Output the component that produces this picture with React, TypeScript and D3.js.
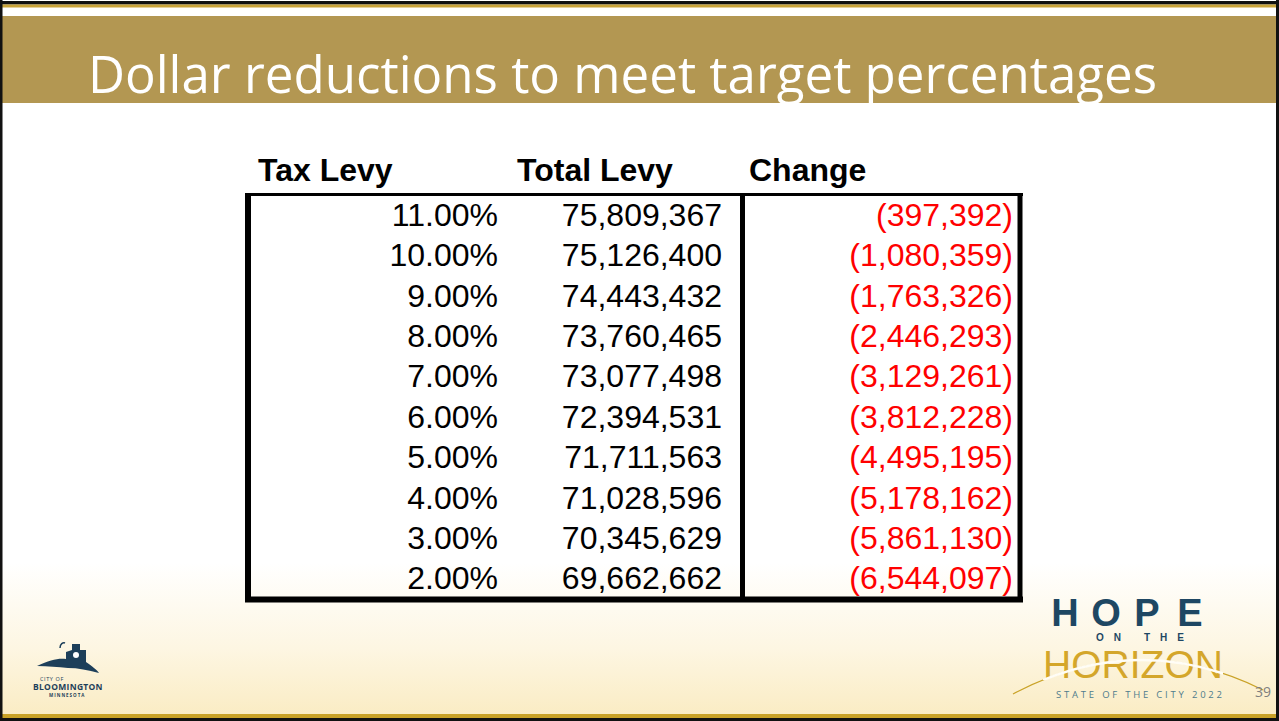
import React, { useEffect, useRef } from 'react'
import * as d3 from 'd3'

const width = 1279
const height = 721

const headers = ['Tax Levy', 'Total Levy', 'Change']
const taxLevy = [11, 10, 9, 8, 7, 6, 5, 4, 3, 2]
const totalLevy = [75809367, 75126400, 74443432, 73760465, 73077498, 72394531, 71711563, 71028596, 70345629, 69662662]
const change = [-397392, -1080359, -1763326, -2446293, -3129261, -3812228, -4495195, -5178162, -5861130, -6544097]

const title = 'Dollar reductions to meet target percentages'

const gold = '#B39752'
const navy = '#1D3F5A'

const App = () => {
  const svgR = useRef<SVGSVGElement | null>(null)

  useEffect(() => {
    const svg = d3.select(svgR.current)
    svg.selectAll('*').remove()

    const defs = svg.append('defs')
    const grad = defs.append('linearGradient').attr('id', 'bg').attr('x1', 0).attr('y1', 0).attr('x2', 0).attr('y2', 1)
    grad.append('stop').attr('offset', 0).attr('stop-color', '#ffffff')
    grad.append('stop').attr('offset', 0.78).attr('stop-color', '#ffffff')
    grad.append('stop').attr('offset', 0.9).attr('stop-color', '#FDF6E2')
    grad.append('stop').attr('offset', 1).attr('stop-color', '#FAEBC1')
    defs.append('clipPath').attr('id', 'hz')
      .append('rect').attr('x', 1043).attr('y', 640).attr('width', 180).attr('height', 40)

    // background + frame
    svg.append('rect').attr('width', width).attr('height', height).attr('fill', 'url(#bg)')
    svg.append('rect').attr('x', 0).attr('y', 1).attr('width', width).attr('height', 3.5).attr('fill', '#111')
    svg.append('rect').attr('x', 0).attr('y', 4.5).attr('width', width).attr('height', 3).attr('fill', '#C9A43A')
    svg.append('rect').attr('x', 0).attr('y', 16).attr('width', width).attr('height', 87).attr('fill', gold)
    svg.append('rect').attr('x', 0).attr('y', 714).attr('width', width).attr('height', 4).attr('fill', '#C9A227')
    svg.append('rect').attr('x', 0).attr('y', 718).attr('width', width).attr('height', 3).attr('fill', '#111')
    svg.append('rect').attr('x', 0).attr('y', 0).attr('width', 2.5).attr('height', height).attr('fill', '#111')
    svg.append('rect').attr('x', width - 3).attr('y', 0).attr('width', 3).attr('height', height).attr('fill', '#111')

    svg.append('text')
      .attr('x', 88).attr('y', 93)
      .attr('font-family', 'Open Sans, sans-serif')
      .attr('font-size', 51)
      .attr('fill', '#ffffff')
      .attr('textLength', 1069)
      .attr('lengthAdjust', 'spacingAndGlyphs')
      .text(title)

    // table
    const y = d3.scaleBand<number>()
      .domain(d3.range(taxLevy.length))
      .range([194, 598])

    const colRight = d3.scaleOrdinal<number, number>().domain([0, 1, 2]).range([498, 722, 1013])
    const headerX = [258, 517, 749]

    const fmt = d3.format(',')
    const cols = [
      taxLevy.map(d => d3.format('.2f')(d) + '%'),
      totalLevy.map(d => fmt(d)),
      change.map(d => d < 0 ? '(' + fmt(-d) + ')' : fmt(d)),
    ]

    const g = svg.append('g').attr('font-family', 'Liberation Sans, Arial, sans-serif')

    g.selectAll('text.head').data(headers).enter().append('text')
      .attr('class', 'head')
      .attr('x', (d, i) => headerX[i])
      .attr('y', 181)
      .attr('font-size', 32)
      .attr('font-weight', 'bold')
      .attr('fill', '#000')
      .text(d => d)

    cols.forEach((col, c) => {
      g.selectAll('text.c' + c).data(col).enter().append('text')
        .attr('class', 'c' + c)
        .attr('x', colRight(c))
        .attr('y', (d, i) => (y(i) as number) + y.bandwidth() / 2 + 11.5)
        .attr('text-anchor', 'end')
        .attr('font-size', 32)
        .attr('fill', c === 2 ? '#FF0000' : '#000')
        .text(d => d)
    })

    const top = 194.5
    const bot = 599.5
    const left = 248
    const mid = 742.5
    const right = 1020
    const lines = g.append('g').attr('stroke', '#000').attr('fill', 'none')
    lines.append('line').attr('x1', left - 3).attr('x2', right + 3).attr('y1', top).attr('y2', top).attr('stroke-width', 3)
    lines.append('line').attr('x1', left - 3).attr('x2', right + 3).attr('y1', bot).attr('y2', bot).attr('stroke-width', 6)
    lines.append('line').attr('x1', left).attr('x2', left).attr('y1', top - 1.5).attr('y2', bot).attr('stroke-width', 6)
    lines.append('line').attr('x1', mid).attr('x2', mid).attr('y1', top - 1.5).attr('y2', bot).attr('stroke-width', 5)
    lines.append('line').attr('x1', right).attr('x2', right).attr('y1', top - 1.5).attr('y2', bot).attr('stroke-width', 5)

    // Bloomington logo
    const logo = svg.append('g').attr('fill', navy)
    logo.append('path').attr('d', 'M37,666 C50,660 58,658 66,659 L66,652 L72,650 L72,644 L80,644 L80,650 L86,650 L86,662 C92,666 97,670 99,673 C88,670 78,668 68,668 C58,667 48,666 37,666 Z')
    logo.append('path').attr('d', 'M60,648 C60,644 63,642 65,643').attr('stroke', navy).attr('fill', 'none').attr('stroke-width', 1.5)
    logo.append('circle').attr('cx', 76).attr('cy', 655).attr('r', 3).attr('fill', '#ffffff')
    logo.append('text').attr('x', 40).attr('y', 681).attr('font-family', 'Open Sans, sans-serif').attr('font-size', 5.5).attr('letter-spacing', 0.6).text('CITY OF')
    logo.append('text').attr('x', 33).attr('y', 690).attr('font-family', 'Open Sans, sans-serif').attr('font-weight', 'bold').attr('font-size', 8.5).attr('letter-spacing', 0.3).text('BLOOMINGTON')
    logo.append('text').attr('x', 49).attr('y', 697).attr('font-family', 'Open Sans, sans-serif').attr('font-weight', 'bold').attr('font-size', 4.5).attr('letter-spacing', 1).text('MINNESOTA')

    // Hope on the horizon
    const hope = svg.append('g').attr('font-family', 'Open Sans, sans-serif')
    const hopeX = [1065, 1106, 1147, 1190]
    hope.selectAll('text.hope').data(['H', 'O', 'P', 'E']).enter().append('text')
      .attr('class', 'hope')
      .attr('x', (d, i) => hopeX[i])
      .attr('y', 626)
      .attr('text-anchor', 'middle')
      .attr('font-family', 'Liberation Sans, sans-serif')
      .attr('font-size', 38)
      .attr('font-weight', 'bold')
      .attr('fill', '#1E4763')
      .text(d => d)
    hope.append('text').attr('x', 1096).attr('y', 641)
      .attr('font-family', 'Liberation Sans, sans-serif')
      .attr('font-size', 10).attr('font-weight', 'bold').attr('fill', '#1E4763')
      .attr('textLength', 88).attr('lengthAdjust', 'spacing').text('ON THE')
    hope.append('text').attr('x', 1043).attr('y', 677.5)
      .attr('font-family', 'Liberation Sans, sans-serif')
      .attr('font-size', 38).attr('fill', '#D4A62A')
      .attr('textLength', 180).attr('lengthAdjust', 'spacingAndGlyphs').text('HORIZON')
    hope.append('path')
      .attr('d', 'M1013,694 Q1138,628 1263,690')
      .attr('fill', 'none').attr('stroke', '#C9A227').attr('stroke-width', 1.2)
    hope.append('path')
      .attr('d', 'M1013,694 Q1138,628 1263,690')
      .attr('clip-path', 'url(#hz)')
      .attr('fill', 'none').attr('stroke', '#fffdf6').attr('stroke-width', 2.5)
    hope.append('text').attr('x', 1056).attr('y', 698)
      .attr('font-size', 9.5).attr('fill', '#4F7C8C')
      .attr('textLength', 166).attr('lengthAdjust', 'spacing').text('STATE OF THE CITY 2022')
    hope.append('text').attr('x', 1255).attr('y', 697)
      .attr('font-size', 14).attr('fill', '#7F7F7F').text('39')
  }, [])

  return (
    <svg ref={svgR} width={width} height={height}
      style={{ position: 'absolute', left: 0, top: 0, display: 'block' }} />
  )
}

export default App
